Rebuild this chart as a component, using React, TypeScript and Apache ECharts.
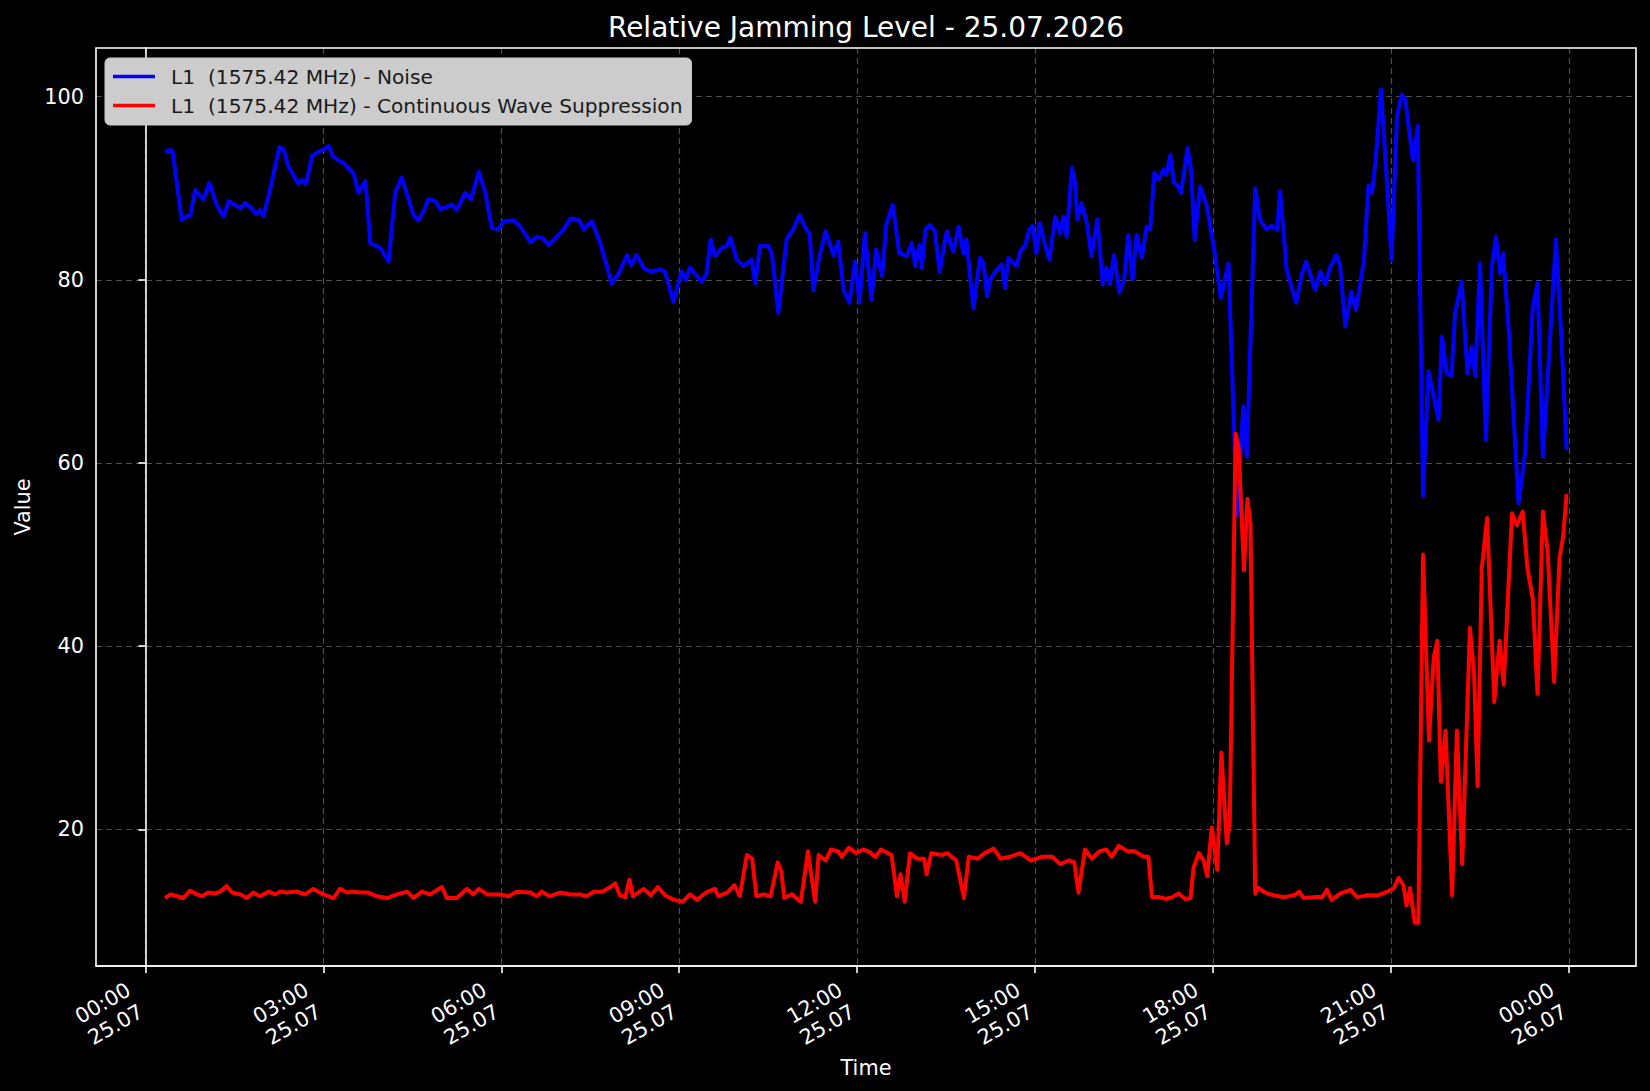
import React, { useEffect, useRef } from "react";
import * as echarts from "echarts";

// Time in hours since 00:00 25.07.2026
const xTickHours = [0, 3, 6, 9, 12, 15, 18, 21, 24];
const yTickValues = [20, 40, 60, 80, 100];

const noiseName = "L1  (1575.42 MHz) - Noise";
const cwName = "L1  (1575.42 MHz) - Continuous Wave Suppression";

const noiseHours = [
  0.33, 0.42, 0.46, 0.61, 0.7, 0.76, 0.84, 0.98, 1.08, 1.2, 1.32, 1.4, 1.6, 1.68, 1.79, 1.87, 1.93, 1.99,
  2.1, 2.26, 2.33, 2.41, 2.58, 2.64, 2.71, 2.81, 2.92, 3.0, 3.09, 3.16, 3.26, 3.34, 3.45, 3.51, 3.59, 3.71,
  3.79, 3.96, 4.1, 4.21, 4.32, 4.52, 4.6, 4.69, 4.77, 4.89, 4.97, 5.17, 5.25, 5.39, 5.49, 5.62, 5.73, 5.84,
  5.95, 6.04, 6.21, 6.32, 6.49, 6.6, 6.71, 6.8, 6.94, 7.05, 7.17, 7.31, 7.39, 7.53, 7.67, 7.86, 7.97, 8.12,
  8.19, 8.28, 8.4, 8.51, 8.68, 8.76, 8.9, 9.04, 9.11, 9.18, 9.38, 9.46, 9.53, 9.6, 9.72, 9.8, 9.86, 9.97,
  10.08, 10.22, 10.28, 10.36, 10.5, 10.56, 10.67, 10.81, 10.92, 11.03, 11.14, 11.2, 11.26, 11.37, 11.47,
  11.6, 11.68, 11.77, 11.87, 11.96, 12.04, 12.13, 12.24, 12.32, 12.42, 12.49, 12.6, 12.71, 12.84, 12.92,
  12.98, 13.05, 13.09, 13.15, 13.23, 13.31, 13.39, 13.51, 13.62, 13.71, 13.79, 13.84, 13.96, 14.07, 14.13,
  14.19, 14.24, 14.33, 14.44, 14.49, 14.55, 14.69, 14.75, 14.83, 14.9, 14.96, 15.02, 15.08, 15.17, 15.24,
  15.34, 15.42, 15.48, 15.53, 15.62, 15.67, 15.71, 15.78, 15.87, 15.95, 16.05, 16.14, 16.2, 16.26, 16.33,
  16.42, 16.5, 16.57, 16.64, 16.71, 16.8, 16.88, 16.94, 17.01, 17.08, 17.16, 17.21, 17.28, 17.34, 17.41,
  17.46, 17.57, 17.63, 17.69, 17.78, 17.89, 18.02, 18.13, 18.26, 18.34, 18.4, 18.51, 18.57, 18.71, 18.79,
  18.9, 18.99, 19.08, 19.13, 19.24, 19.4, 19.5, 19.57, 19.72, 19.81, 19.89, 19.97, 20.08, 20.14, 20.23,
  20.33, 20.41, 20.54, 20.62, 20.68, 20.74, 20.83, 20.9, 21.01, 21.1, 21.18, 21.24, 21.29, 21.37, 21.45,
  21.54, 21.63, 21.72, 21.8, 21.86, 21.94, 22.02, 22.08, 22.19, 22.29, 22.36, 22.42, 22.5, 22.6, 22.7,
  22.77, 22.84, 22.89, 22.98, 23.15, 23.26, 23.39, 23.47, 23.56, 23.65, 23.78, 23.88, 23.96,
];
const noiseValues = [
  93.9, 94.2, 94.0, 86.6, 86.9, 87.1, 89.8, 88.8, 90.6, 88.2, 86.9, 88.6, 87.8, 88.4, 87.8, 87.2, 87.6, 87.0,
  89.8, 94.5, 94.2, 92.4, 90.5, 90.9, 90.5, 93.5, 94.0, 94.2, 94.6, 93.5, 93.0, 92.8, 92.0, 91.6, 89.5, 90.8,
  84.0, 83.5, 82.0, 89.5, 91.2, 87.1, 86.5, 87.5, 88.8, 88.6, 87.7, 88.2, 87.6, 89.5, 88.8, 91.8, 89.5, 85.7,
  85.5, 86.4, 86.5, 85.8, 84.1, 84.7, 84.5, 83.8, 84.7, 85.5, 86.7, 86.5, 85.5, 86.4, 84.0, 79.6, 80.6, 82.7,
  81.6, 82.7, 81.3, 80.9, 81.1, 80.9, 77.6, 80.9, 80.0, 81.3, 79.8, 80.7, 84.4, 82.6, 83.5, 83.7, 84.6, 82.2,
  81.5, 82.2, 79.6, 83.7, 83.7, 82.9, 76.4, 84.4, 85.5, 87.1, 85.5, 85.1, 78.9, 82.7, 85.3,
  82.7, 84.2, 78.9, 77.5, 82.0, 77.5, 85.1, 77.8, 83.3, 80.4, 86.0, 88.2, 82.9, 82.6, 84.0,
  81.5, 83.8, 81.3, 85.5, 86.0, 85.3, 80.9, 85.3, 83.1, 85.8, 82.9, 84.4, 76.9, 82.4, 81.8,
  78.2, 80.0, 80.9, 81.7, 79.1, 82.4, 81.5, 83.1, 83.7, 85.5, 85.9, 82.9, 86.2, 83.7, 82.2,
  86.9, 85.1, 86.9, 84.7, 92.2, 90.8, 86.6, 88.4, 86.2, 82.6, 86.6, 79.5, 81.3, 79.5, 82.7,
  78.6, 80.0, 84.9, 80.0, 84.9, 82.4, 85.8, 85.5, 91.7, 90.9, 92.0, 91.5, 93.6, 90.6, 90.2,
  89.5, 94.4, 92.0, 84.4, 90.2, 88.2, 83.3, 78.0, 81.8, 66.5, 54.2, 66.2, 60.7, 90.0, 86.6,
  85.5, 85.9, 85.5, 89.7, 81.1, 77.5, 80.7, 82.0, 78.9, 80.9, 79.5, 81.3, 82.7, 81.6, 74.9,
  78.7, 76.7, 81.9, 90.3, 89.5, 93.0, 100.8, 93.8, 82.2, 97.9, 100.2, 99.7, 97.1, 93.1, 96.8,
  56.4, 70.0, 67.3, 64.7, 73.8, 69.8, 69.5, 76.4, 79.8, 69.8, 72.7, 69.5, 81.8, 62.5, 81.5,
  84.7, 80.7, 82.9, 74.9, 55.6, 61.1, 77.1, 79.6, 60.7, 70.2, 84.4, 72.7, 61.4,
];

const cwHours = [
  0.33, 0.42, 0.53, 0.64, 0.75, 0.87, 0.95, 1.06, 1.18, 1.26, 1.37, 1.46, 1.6, 1.71, 1.82, 1.93, 2.08, 2.19,
  2.27, 2.38, 2.55, 2.69, 2.83, 3.0, 3.17, 3.28, 3.4, 3.48, 3.62, 3.76, 3.9, 4.07, 4.24, 4.41, 4.52, 4.66,
  4.8, 5.0, 5.08, 5.25, 5.42, 5.53, 5.62, 5.76, 5.98, 6.12, 6.26, 6.49, 6.6, 6.68, 6.82, 6.99, 7.16, 7.33,
  7.44, 7.56, 7.7, 7.84, 7.92, 8.0, 8.09, 8.16, 8.22, 8.4, 8.52, 8.64, 8.76, 8.91, 9.06, 9.18, 9.3, 9.45,
  9.6, 9.66, 9.81, 9.93, 10.02, 10.14, 10.23, 10.3, 10.42, 10.54, 10.66, 10.72, 10.77, 10.9, 11.05, 11.17,
  11.29, 11.35, 11.47, 11.56, 11.68, 11.74, 11.86, 11.98, 12.1, 12.19, 12.31, 12.4, 12.58, 12.67, 12.73,
  12.8, 12.89, 13.01, 13.13, 13.17, 13.25, 13.43, 13.52, 13.67, 13.8, 13.88, 14.03, 14.15, 14.3, 14.42,
  14.57, 14.75, 14.93, 15.11, 15.29, 15.42, 15.57, 15.66, 15.73, 15.84, 15.96, 16.08, 16.2, 16.29, 16.41,
  16.56, 16.68, 16.83, 16.91, 16.97, 17.1, 17.2, 17.31, 17.42, 17.53, 17.62, 17.67, 17.76, 17.84, 17.9,
  17.98, 18.07, 18.14, 18.23, 18.28, 18.38, 18.43, 18.52, 18.58, 18.63, 18.71, 18.77, 18.85, 18.92, 19.02,
  19.19, 19.36, 19.45, 19.53, 19.7, 19.84, 19.92, 20.0, 20.15, 20.32, 20.43, 20.6, 20.77, 20.94, 21.05,
  21.13, 21.21, 21.26, 21.32, 21.4, 21.46, 21.54, 21.64, 21.72, 21.78, 21.84, 21.92, 22.03, 22.11, 22.2,
  22.33, 22.4, 22.46, 22.53, 22.62, 22.74, 22.83, 22.9, 23.04, 23.12, 23.22, 23.3, 23.39, 23.47, 23.56,
  23.64, 23.75, 23.84, 23.9, 23.96,
];
const cwValues = [
  12.5, 12.9, 12.7, 12.5, 13.3, 12.9, 12.7, 13.1, 13.0, 13.2, 13.8, 13.1, 12.9, 12.5, 13.1, 12.7, 13.2, 12.9,
  13.2, 13.1, 13.2, 12.9, 13.5, 12.9, 12.5, 13.5, 13.1, 13.2, 13.1, 13.1, 12.7, 12.5, 12.9, 13.2, 12.5, 13.2,
  12.9, 13.7, 12.5, 12.5, 13.5, 12.9, 13.5, 12.9, 12.9, 12.7, 13.2, 13.1, 12.7, 13.2, 12.7, 13.1, 12.9, 12.9,
  12.7, 13.2, 13.2, 13.7, 14.1, 12.8, 12.6, 14.5, 12.7, 13.5, 12.8, 13.7, 12.8, 12.3, 12.1, 12.9, 12.3, 13.1,
  13.5, 12.7, 13.1, 13.9, 12.7, 17.2, 16.8, 12.7, 12.9, 12.7, 16.4, 15.4, 12.5, 12.9, 12.1, 17.6,
  12.1, 17.2, 16.6, 17.8, 17.6, 17.0, 18.0, 17.4, 17.8, 17.6, 17.0, 17.8, 17.2, 12.7, 15.1,
  12.1, 17.4, 16.8, 16.8, 15.1, 17.4, 17.2, 17.4, 16.6, 12.5, 17.0, 16.8, 17.4, 17.9, 16.8,
  17.0, 17.4, 16.6, 17.0, 17.0, 16.2, 16.6, 16.4, 13.1, 17.8, 16.8, 17.6, 17.8, 17.0, 18.2,
  17.6, 17.6, 17.0, 17.0, 12.6, 12.6, 12.4, 12.6, 13.0, 12.4, 12.5, 15.8, 17.4, 16.6, 14.9,
  20.2, 15.6, 28.4, 18.5, 20.7, 63.2, 61.7, 48.3, 56.1, 53.4, 13.0, 13.6, 13.2, 13.0, 12.8,
  12.6, 12.8, 13.2, 12.5, 12.6, 12.6, 13.4, 12.3, 13.0, 13.4, 12.6, 12.8, 12.8, 13.2, 13.6,
  14.7, 13.9, 11.7, 13.6, 9.8, 9.8, 50.0, 29.7, 38.8, 40.6, 25.2, 30.8, 12.8, 30.8, 16.2,
  42.0, 37.0, 24.7, 48.5, 54.0, 33.9, 40.6, 35.8, 54.5, 53.2, 54.7, 48.5, 45.2, 34.8, 54.7,
  50.4, 36.1, 49.6, 51.9, 56.6,
];

const FONT = "DejaVu Sans";

function pad2(n: number) {
  return n < 10 ? "0" + n : String(n);
}

function formatHour(v: number) {
  const h = Math.round(v);
  const hh = ((h % 24) + 24) % 24;
  const day = 25 + Math.floor(h / 24);
  return pad2(hh) + ":00\n" + day + ".07";
}

export default function App() {
  const ref = useRef<HTMLDivElement | null>(null);

  useEffect(() => {
    if (!ref.current) return;
    const chart = echarts.init(ref.current, undefined, { renderer: "svg" });
    const noiseData = noiseHours.map((h, i) => [h, noiseValues[i]]);
    const cwData = cwHours.map((h, i) => [h, cwValues[i]]);

    chart.setOption({
      animation: false,
      backgroundColor: "#000000",
      textStyle: { fontFamily: FONT },
      title: {
        text: "Relative Jamming Level - 25.07.2026",
        left: 866,
        top: 13,
        textAlign: "center",
        padding: 0,
        textStyle: { color: "#ffffff", fontSize: 28, fontWeight: "normal", fontFamily: FONT },
      },
      legend: {
        orient: "vertical",
        left: 105,
        top: 58,
        padding: [8, 9, 9, 8],
        itemGap: 8,
        itemWidth: 42,
        itemHeight: 3.5,
        icon: "rect",
        backgroundColor: "#cccccc",
        borderColor: "#cccccc",
        borderWidth: 1,
        borderRadius: 5,
        textStyle: {
          color: "#1a1a1a",
          fontSize: 20.2,
          fontFamily: FONT,
          lineHeight: 21,
          padding: [0, 0, 0, 11],
        },
        data: [noiseName, cwName],
      },
      grid: {
        left: 96,
        right: 14,
        top: 48,
        bottom: 125,
        show: true,
        borderColor: "#ffffff",
        borderWidth: 1.6,
        backgroundColor: "#000000",
      },
      xAxis: {
        type: "value",
        min: -0.833,
        max: 25.13,
        name: "Time",
        nameLocation: "middle",
        nameGap: 79,
        nameTextStyle: { color: "#ffffff", fontSize: 20.8, fontFamily: FONT },
        axisLine: { show: true, lineStyle: { color: "#ffffff", width: 1.6 } },
        axisTick: {
          show: true,
          length: 7,
          lineStyle: { color: "#ffffff", width: 1.6 },
          customValues: xTickHours,
        },
        axisLabel: {
          customValues: xTickHours,
          rotate: 30,
          margin: 27,
          color: "#ffffff",
          fontSize: 20.8,
          fontFamily: FONT,
          lineHeight: 25,
          align: "right",
          padding: [0, 12, 0, 0],
          formatter: (v: number) => formatHour(v),
        },
        splitLine: {
          show: true,
          lineStyle: { color: "rgba(255,255,255,0.3)", width: 1.2, type: [6, 4] },
        },
      },
      yAxis: {
        type: "value",
        min: 5.08,
        max: 105.31,
        name: "Value",
        nameLocation: "middle",
        nameGap: 62,
        nameTextStyle: { color: "#ffffff", fontSize: 20.8, fontFamily: FONT },
        axisLine: { show: true, lineStyle: { color: "#ffffff", width: 1.6 } },
        axisTick: {
          show: true,
          length: 7,
          lineStyle: { color: "#ffffff", width: 1.6 },
          customValues: yTickValues,
        },
        axisLabel: {
          customValues: yTickValues,
          margin: 12,
          color: "#ffffff",
          fontSize: 20.8,
          fontFamily: FONT,
        },
        splitLine: {
          show: true,
          lineStyle: { color: "rgba(255,255,255,0.3)", width: 1.2, type: [6, 4] },
        },
      },
      series: [
        {
          name: noiseName,
          type: "line",
          data: noiseData,
          showSymbol: false,
          symbol: "none",
          itemStyle: { color: "#0000ff" },
          lineStyle: { color: "#0000ff", width: 4, join: "round" },
        },
        {
          name: cwName,
          type: "line",
          data: cwData,
          showSymbol: false,
          symbol: "none",
          itemStyle: { color: "#ff0000" },
          lineStyle: { color: "#ff0000", width: 4, join: "round" },
        },
      ],
    });

    return () => {
      chart.dispose();
    };
  }, []);

  return (
    <div
      ref={ref}
      style={{ position: "fixed", left: 0, top: 0, width: 1650, height: 1091, background: "#000000" }}
    />
  );
}
